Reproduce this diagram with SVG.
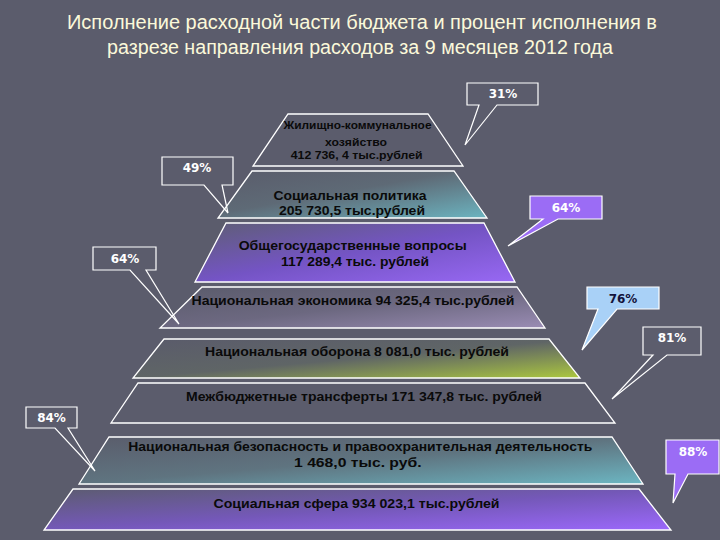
<svg xmlns="http://www.w3.org/2000/svg" width="720" height="540" viewBox="0 0 720 540">
<defs>
<linearGradient id="gTeal" x1="0" y1="0" x2="1" y2="1"><stop offset="0" stop-color="#5a5c6b"/><stop offset="0.45" stop-color="#5e6a76"/><stop offset="1" stop-color="#6cb4c0"/></linearGradient>
<linearGradient id="gPurple" x1="0" y1="0" x2="1" y2="1"><stop offset="0" stop-color="#5e5e74"/><stop offset="0.5" stop-color="#7454c4"/><stop offset="1" stop-color="#9868f4"/></linearGradient>
<linearGradient id="gMauve" x1="0" y1="0" x2="1" y2="1"><stop offset="0" stop-color="#5a5b6b"/><stop offset="0.5" stop-color="#6c6880"/><stop offset="1" stop-color="#9a8cb4"/></linearGradient>
<linearGradient id="gGreen" x1="0" y1="0" x2="1" y2="1"><stop offset="0" stop-color="#5a5b6b"/><stop offset="0.5" stop-color="#5f6566"/><stop offset="1" stop-color="#acc83e"/></linearGradient>
<linearGradient id="gTeal2" x1="0" y1="0" x2="1" y2="1"><stop offset="0" stop-color="#5a5c6b"/><stop offset="0.5" stop-color="#5f7480"/><stop offset="1" stop-color="#6cb6c2"/></linearGradient>
<linearGradient id="gViolet" x1="0" y1="0" x2="1" y2="1"><stop offset="0" stop-color="#5c5c70"/><stop offset="0.5" stop-color="#7458b8"/><stop offset="1" stop-color="#9c68fc"/></linearGradient>
</defs>
<style>
.tier{stroke:#ffffff;stroke-width:1.3;}
.t{font-family:"Liberation Sans",Arial,sans-serif;font-weight:bold;fill:#0a0a0a;text-anchor:middle;}
.title{font-family:"Liberation Sans Narrow","Liberation Sans",Arial,sans-serif;font-size:20px;fill:#fbf9da;text-anchor:middle;}
.co{stroke:#ffffff;stroke-width:1.2;stroke-linejoin:miter;}
.p{font-family:"DejaVu Sans",Verdana,sans-serif;font-weight:bold;font-size:12px;fill:#ffffff;text-anchor:middle;}
</style>
<rect x="0" y="0" width="720" height="540" fill="#5b5c6c"/>
<g id="title">
<text class="title" x="362" y="29" textLength="590" lengthAdjust="spacingAndGlyphs">Исполнение расходной части бюджета и процент исполнения в</text>
<text class="title" x="360" y="54" textLength="506" lengthAdjust="spacingAndGlyphs">разрезе направления расходов за 9 месяцев 2012 года</text>
</g>
<g id="tier-housing">
<polygon class="tier" fill="none" points="288,114 428,114 463,166 253,166"/>
<text class="t" font-size="11" x="357.5" y="129" textLength="148" lengthAdjust="spacingAndGlyphs">Жилищно-коммунальное</text>
<text class="t" font-size="11" x="356" y="145.5" textLength="62" lengthAdjust="spacingAndGlyphs">хозяйство</text>
<text class="t" font-size="11" x="356.7" y="159" textLength="132" lengthAdjust="spacingAndGlyphs">412 736, 4 тыс.рублей</text>
</g>
<g id="tier-social-policy">
<polygon class="tier" fill="url(#gTeal)" points="252,171 454,171 487,218 218,218"/>
<text class="t" font-size="13" x="350" y="199.5" textLength="153" lengthAdjust="spacingAndGlyphs">Социальная политика</text>
<text class="t" font-size="13" x="352" y="215" textLength="146" lengthAdjust="spacingAndGlyphs">205 730,5 тыс.рублей</text>
</g>
<g id="tier-general">
<polygon class="tier" fill="url(#gPurple)" points="226,223 484,223 515,282 195,282"/>
<text class="t" font-size="13" x="352.7" y="249.5" textLength="228" lengthAdjust="spacingAndGlyphs">Общегосударственные вопросы</text>
<text class="t" font-size="13" x="355" y="266" textLength="148" lengthAdjust="spacingAndGlyphs">117 289,4 тыс. рублей</text>
</g>
<g id="tier-economy">
<polygon class="tier" fill="url(#gMauve)" points="202,287 517,287 545,328 160,328"/>
<text class="t" font-size="13" x="353" y="304.5" textLength="323" lengthAdjust="spacingAndGlyphs">Национальная экономика 94 325,4 тыс.рублей</text>
</g>
<g id="tier-defense">
<polygon class="tier" fill="url(#gGreen)" points="164,339 549,339 580,378 133,378"/>
<text class="t" font-size="13" x="357" y="355.5" textLength="304" lengthAdjust="spacingAndGlyphs">Национальная оборона 8 081,0 тыс. рублей</text>
</g>
<g id="tier-transfers">
<polygon class="tier" fill="none" points="138,383 585,383 615,423 111,423"/>
<text class="t" font-size="13" x="364" y="400.5" textLength="356" lengthAdjust="spacingAndGlyphs">Межбюджетные трансферты 171 347,8 тыс. рублей</text>
</g>
<g id="tier-security">
<polygon class="tier" fill="url(#gTeal2)" points="109,437 612,437 643,484 79,484"/>
<text class="t" font-size="13" x="360.3" y="450.5" textLength="464" lengthAdjust="spacingAndGlyphs">Национальная безопасность и правоохранительная деятельность</text>
<text class="t" font-size="13" x="357.8" y="467" textLength="127.5" lengthAdjust="spacingAndGlyphs">1 468,0 тыс. руб.</text>
</g>
<g id="tier-social-sphere">
<polygon class="tier" fill="url(#gViolet)" points="73,489 639,489 671,530 44,530"/>
<text class="t" font-size="13" x="356.5" y="507.5" textLength="286" lengthAdjust="spacingAndGlyphs">Социальная сфера 934 023,1 тыс.рублей</text>
</g>
<g id="callout-31">
<path class="co" fill="none" d="M467,83 H538 V105 H497 L465,145 L479,105 H467 Z"/>
<text class="p" x="503" y="98">31%</text>
</g>
<g id="callout-49">
<path class="co" fill="none" d="M162,157 H233 V185 H222 L228,213 L204,185 H162 Z"/>
<text class="p" x="197" y="172">49%</text>
</g>
<g id="callout-64-left">
<path class="co" fill="none" d="M93,247 H156 V270 H146 L179,324 L130,270 H93 Z"/>
<text class="p" x="125" y="263">64%</text>
</g>
<g id="callout-64-right">
<path class="co" fill="#9b6cf5" d="M530,196 H602 V219 H558 L508,246 L543,219 H530 Z"/>
<text class="p" x="566" y="212">64%</text>
</g>
<g id="callout-76">
<path class="co" fill="#a9d1f7" d="M587,287 H659 V309 H617 L582,350 L598,309 H587 Z"/>
<text class="p" x="623" y="303" fill="#14143c" style="fill:#14143c">76%</text>
</g>
<g id="callout-81">
<path class="co" fill="#5c5d6d" d="M643,327 H701 V355 H667 L612,399 L653,355 H643 Z"/>
<text class="p" x="672" y="342">81%</text>
</g>
<g id="callout-84">
<path class="co" fill="none" d="M26,407 H77 V428 H68 L95,471 L55,428 H26 Z"/>
<text class="p" x="51.5" y="422">84%</text>
</g>
<g id="callout-88">
<path class="co" fill="#9b6cf5" d="M666,440 H719 V474 H688 L673,503 L675,474 H666 Z"/>
<text class="p" x="693" y="456">88%</text>
</g>
</svg>
